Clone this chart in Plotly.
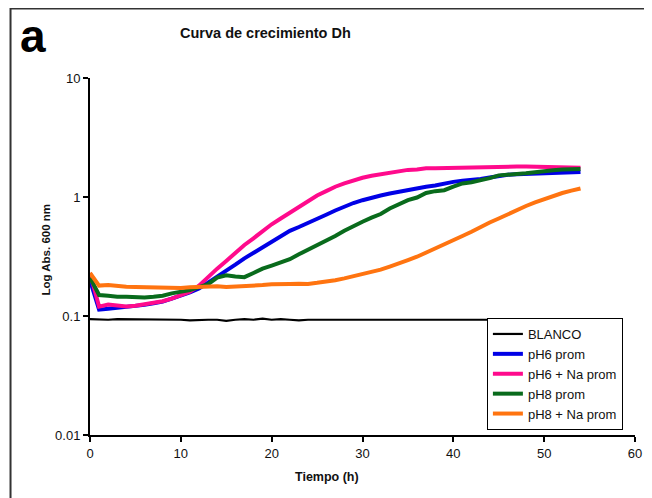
import plotly.graph_objects as go

tiempo = list(range(0, 55))

blanco = [0.094, 0.093, 0.093, 0.094, 0.094, 0.093, 0.093, 0.093, 0.093, 0.093,
          0.093, 0.092, 0.093, 0.093, 0.093, 0.091, 0.093, 0.094, 0.093, 0.095,
          0.093, 0.094, 0.093, 0.092, 0.093, 0.093, 0.093, 0.093, 0.092, 0.093,
          0.093, 0.093, 0.093, 0.093, 0.093, 0.093, 0.093, 0.093, 0.093, 0.093,
          0.093, 0.093, 0.093, 0.093, 0.093, 0.093, 0.093, 0.093, 0.093, 0.093,
          0.093, 0.093, 0.093, 0.093, 0.093]

ph6 = [0.20, 0.113, 0.115, 0.117, 0.118, 0.12, 0.124, 0.128, 0.132, 0.14,
       0.148, 0.158, 0.17, 0.19, 0.215, 0.24, 0.27, 0.305, 0.34, 0.38,
       0.42, 0.465, 0.52, 0.56, 0.61, 0.66, 0.71, 0.77, 0.83, 0.89,
       0.94, 0.99, 1.03, 1.07, 1.11, 1.15, 1.19, 1.22, 1.25, 1.30,
       1.34, 1.37, 1.39, 1.42, 1.46, 1.50, 1.54, 1.55, 1.56, 1.57,
       1.59, 1.60, 1.61, 1.62, 1.62]

ph6_na = [0.23, 0.12, 0.125, 0.122, 0.12, 0.122, 0.125, 0.13, 0.133, 0.14,
          0.15, 0.16, 0.18, 0.215, 0.25, 0.29, 0.34, 0.395, 0.45, 0.52,
          0.59, 0.66, 0.74, 0.82, 0.93, 1.03, 1.12, 1.22, 1.30, 1.38,
          1.45, 1.51, 1.56, 1.61, 1.65, 1.69, 1.70, 1.74, 1.74, 1.75,
          1.76, 1.76, 1.77, 1.77, 1.78, 1.78, 1.79, 1.80, 1.80, 1.79,
          1.78, 1.77, 1.77, 1.76, 1.76]

ph8 = [0.21, 0.15, 0.148, 0.145, 0.145, 0.144, 0.143, 0.145, 0.148, 0.155,
       0.16, 0.165, 0.175, 0.185, 0.21, 0.22, 0.215, 0.212, 0.23, 0.25,
       0.265, 0.28, 0.30, 0.33, 0.36, 0.39, 0.43, 0.47, 0.52, 0.57,
       0.62, 0.67, 0.72, 0.80, 0.87, 0.94, 0.99, 1.08, 1.12, 1.14,
       1.22, 1.30, 1.33, 1.38, 1.44, 1.52, 1.55, 1.56, 1.58, 1.62,
       1.66, 1.68, 1.70, 1.71, 1.72]

ph8_na = [0.23, 0.18, 0.182, 0.178, 0.176, 0.175, 0.174, 0.173, 0.172, 0.173,
          0.172, 0.174, 0.175, 0.177, 0.178, 0.175, 0.176, 0.178, 0.18, 0.182,
          0.185, 0.184, 0.186, 0.187, 0.186, 0.19, 0.194, 0.20, 0.207, 0.215,
          0.225, 0.235, 0.245, 0.26, 0.275, 0.295, 0.315, 0.34, 0.37, 0.40,
          0.43, 0.47, 0.51, 0.56, 0.61, 0.66, 0.72, 0.78, 0.84, 0.90,
          0.96, 1.02, 1.08, 1.13, 1.18]

series_names = ["BLANCO", "pH6 prom", "pH6 + Na prom", "pH8 prom", "pH8 + Na prom"]
series_values = [blanco, ph6, ph6_na, ph8, ph8_na]
series_colors = ["#000000", "#0000E6", "#FF0A8C", "#096B1C", "#FF7410"]
series_widths = [2.2, 4, 4, 4, 4]

x_ticks = [0, 10, 20, 30, 40, 50, 60]
y_ticks = [0.01, 0.1, 1, 10]
y_tick_labels = ["0.01", "0.1", "1", "10"]

FONT = "Liberation Sans, Arial, sans-serif"

# plot area in page pixels (page has an 8px body offset)
PX0, PX1, PY0, PY1 = 90, 642, 78, 435
PW, PH = PX1 - PX0, PY1 - PY0


def fx(px):
    return (px - PX0) / PW


def fy(py):
    return (PY1 - py) / PH


fig = go.Figure()
for name, vals, col, w in zip(series_names, series_values, series_colors, series_widths):
    fig.add_trace(go.Scatter(x=tiempo, y=vals, mode="lines", name=name,
                             line=dict(color=col, width=w)))

fig.update_layout(
    width=644, height=490,
    margin=dict(l=PX0 - 8, r=644 - (PX1 - 8), t=PY0 - 8, b=490 - (PY1 - 8)),
    paper_bgcolor="white", plot_bgcolor="white",
    font=dict(family=FONT, size=12, color="#111"),
    showlegend=True,
    legend=dict(x=fx(492), y=fy(318), xanchor="left", yanchor="top",
                bgcolor="white", bordercolor="black", borderwidth=1,
                font=dict(size=13, family=FONT, color="#111"),
                itemwidth=30, tracegroupgap=0),
    xaxis=dict(range=[0, 60], tickvals=x_ticks, showline=True, linecolor="black",
               linewidth=2, ticks="outside", ticklen=5, tickwidth=2, tickcolor="black",
               showgrid=False, zeroline=False, tickfont=dict(size=13, family=FONT)),
    yaxis=dict(type="log", range=[-2, 1], tickvals=y_ticks, ticktext=y_tick_labels,
               showline=True, linecolor="black", linewidth=2, ticks="outside",
               ticklen=5, tickwidth=2, tickcolor="black", showgrid=False,
               zeroline=False, tickfont=dict(size=13, family=FONT)),
    annotations=[
        dict(text="<b>Curva de crecimiento Dh</b>", xref="paper", yref="paper",
             x=fx(268), y=fy(33), showarrow=False,
             xanchor="center", yanchor="middle", font=dict(size=14.5, family=FONT)),
        dict(text="<b>a</b>", xref="paper", yref="paper",
             x=fx(32), y=fy(36), showarrow=False,
             xanchor="center", yanchor="middle", font=dict(size=46, family=FONT, color="black")),
        dict(text="<b>Tiempo (h)</b>", xref="paper", yref="paper",
             x=fx(330), y=fy(477), showarrow=False,
             xanchor="center", yanchor="middle", font=dict(size=12.5, family=FONT)),
        dict(text="<b>Log Abs. 600 nm</b>", xref="paper", yref="paper",
             x=fx(45), y=fy(250), showarrow=False, textangle=-90,
             xanchor="center", yanchor="middle", font=dict(size=11.5, family=FONT)),
    ],
    shapes=[
        dict(type="rect", xref="paper", yref="paper",
             x0=fx(9.5), x1=fx(720), y0=fy(560), y1=fy(8.6),
             line=dict(color="#333", width=2), fillcolor="rgba(0,0,0,0)", layer="below"),
    ],
)

fig.write_html("out.html")
